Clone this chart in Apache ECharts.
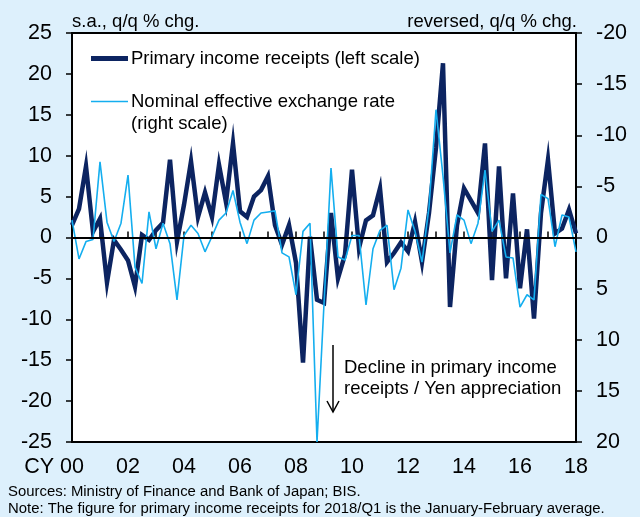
<!DOCTYPE html>
<html>
<head>
<meta charset="utf-8">
<script src="https://cdn.jsdelivr.net/npm/echarts@6/dist/echarts.min.js"></script>
<style>
html,body{margin:0;padding:0;background:#ddf0fc;}
#chart{width:640px;height:517px;}
</style>
</head>
<body>
<div id="chart"></div>
<script>
// Quarterly categories 2000Q1 .. 2018Q1
const years = [2000,2001,2002,2003,2004,2005,2006,2007,2008,2009,2010,2011,2012,2013,2014,2015,2016,2017,2018];
const categories = [];
years.forEach(y => { for (let q = 1; q <= 4; q++) { if (y === 2018 && q > 1) break; categories.push(y + 'Q' + q); } });

const tickLabels = ['00','02','04','06','08','10','12','14','16','18'];

// Primary income receipts, s.a., q/q % chg. (left scale)
const primaryIncome = [
  1.5, 3.5, 8.7, 0.7,
  2.3, -5.5, -0.3, -1.5,
  -2.8, -6.0, 0.3, -0.3,
  0.9, 1.8, 9.5, -0.5,
  4.0, 9.3, 2.5, 5.5,
  2.5, 8.9, 4.3, 11.5,
  3.2, 2.5, 5.0, 5.8,
  7.5, 1.5, -0.9, 1.5,
  -3.1, -15.3, 0.1, -7.6,
  -8.0, 3.0, -5.0, -2.1,
  8.3, -1.3, 2.1, 2.7,
  6.0, -3.0, -1.9, -0.6,
  -1.7, 1.9, -3.0, 3.0,
  11.0, 21.3, -8.5, 1.5,
  6.0, 4.5, 3.0, 11.5,
  -5.2, 8.7, -5.0, 5.4,
  -6.2, 1.0, -9.9, 3.0,
  9.5, 0.5, 1.1, 3.4,
  0.5
];

// Nominal effective exchange rate, q/q % chg. (right scale, reversed)
const neer = [
  -1.7, 2.1, 0.4, 0.2,
  -7.4, -1.5, 0.4, -1.4,
  -6.1, 2.9, 4.5, -2.5,
  1.1, -1.4, 0.6, 6.1,
  -0.2, -1.2, -0.4, 1.4,
  -0.1, -1.7, -2.4, -4.6,
  -1.5, 0.6, -1.7, -2.4,
  -2.5, -2.6, 1.5, 1.9,
  5.6, -0.6, -1.4, 20.0,
  6.5, -6.8, 1.9, 2.2,
  -0.2, -0.2, 6.6, 1.1,
  -0.7, -1.2, 5.1, 3.0,
  -2.7, -0.6, 2.4, -3.0,
  -12.5, -6.0, 1.5, -2.2,
  -1.7, 0.6, -1.4, -6.6,
  -0.6, -1.7, 1.9, 2.0,
  6.8, 5.6, 6.1, -4.2,
  -3.8, 0.9, -2.2, -2.0,
  1.4
];

const DARK = '#0c2461';
const LIGHT = '#14aeef';
const FONT = 'Liberation Sans, Arial, sans-serif';

const chart = echarts.init(document.getElementById('chart'), null, {renderer: 'canvas'});

const option = {
  backgroundColor: '#ddf0fc',
  animation: false,
  grid: {
    left: 72, top: 33, width: 504, height: 409,
    show: true, backgroundColor: '#ffffff', borderColor: '#000', borderWidth: 2
  },
  xAxis: {
    type: 'category',
    data: categories,
    boundaryGap: false,
    axisLine: {show: true, lineStyle: {color: '#000', width: 2}},
    axisTick: {show: true, inside: true, length: 6, interval: (i) => i % 4 === 0, lineStyle: {color: '#000', width: 1.5}},
    axisLabel: {
      interval: (i) => i % 8 === 0,
      formatter: (v, i) => tickLabels[Math.round(i / 8)],
      color: '#000', fontSize: 21.5, fontFamily: FONT, margin: 14
    },
    splitLine: {show: false}
  },
  yAxis: [
    {
      type: 'value', min: -25, max: 25, interval: 5, position: 'left',
      axisLine: {show: true, lineStyle: {color: '#000', width: 2}},
      axisTick: {show: true, inside: false, length: 6, lineStyle: {color: '#000', width: 1.5}},
      axisLabel: {color: '#000', fontSize: 21.5, fontFamily: FONT, margin: 20},
      splitLine: {show: false}
    },
    {
      type: 'value', min: -20, max: 20, interval: 5, position: 'right', inverse: true,
      axisLine: {show: true, lineStyle: {color: '#000', width: 2}},
      axisTick: {show: true, inside: false, length: 6, lineStyle: {color: '#000', width: 1.5}},
      axisLabel: {color: '#000', fontSize: 21.5, fontFamily: FONT, margin: 20},
      splitLine: {show: false}
    }
  ],
  series: [
    {
      name: 'Primary income receipts (left scale)',
      type: 'line', yAxisIndex: 0, data: primaryIncome,
      symbol: 'none', lineStyle: {color: DARK, width: 4.5, join: 'miter'},
      markLine: {
        silent: true, symbol: 'none', label: {show: false},
        lineStyle: {color: '#000', width: 2, type: 'solid'},
        data: [{yAxis: 0}]
      },
      z: 2
    },
    {
      name: 'Nominal effective exchange rate (right scale)',
      type: 'line', yAxisIndex: 1, data: neer,
      symbol: 'none', lineStyle: {color: LIGHT, width: 1.6},
      z: 3
    }
  ],
  graphic: [
    {type: 'text', left: 72, top: 12, style: {text: 's.a., q/q % chg.', font: '18.5px ' + FONT, fill: '#000'}},
    {type: 'text', right: 63, top: 12, style: {text: 'reversed, q/q % chg.', font: '18.5px ' + FONT, fill: '#000', textAlign: 'right'}},
    {type: 'text', x: 54, y: 467, style: {text: 'CY', font: '21.5px ' + FONT, fill: '#000', textAlign: 'right', textVerticalAlign: 'middle'}},
    // legend
    {type: 'line', shape: {x1: 91, y1: 58.5, x2: 128, y2: 58.5}, style: {stroke: DARK, lineWidth: 5}},
    {type: 'text', x: 131, y: 59, style: {text: 'Primary income receipts (left scale)', font: '18.5px ' + FONT, fill: '#000', textVerticalAlign: 'middle'}},
    {type: 'line', shape: {x1: 91, y1: 101.5, x2: 128, y2: 101.5}, style: {stroke: LIGHT, lineWidth: 1.6}},
    {type: 'text', x: 131, y: 102, style: {text: 'Nominal effective exchange rate', font: '18.5px ' + FONT, fill: '#000', textVerticalAlign: 'middle'}},
    {type: 'text', x: 131, y: 124, style: {text: '(right scale)', font: '18.5px ' + FONT, fill: '#000', textVerticalAlign: 'middle'}},
    // annotation
    {type: 'line', shape: {x1: 333, y1: 345, x2: 333, y2: 412}, style: {stroke: '#000', lineWidth: 1.5}},
    {type: 'polyline', shape: {points: [[327, 401], [333, 412], [339, 401]]}, style: {stroke: '#000', lineWidth: 1.5, fill: null}},
    {type: 'text', x: 344, y: 368, style: {text: 'Decline in primary income', font: '18.5px ' + FONT, fill: '#000', textVerticalAlign: 'middle'}},
    {type: 'text', x: 344, y: 389, style: {text: 'receipts / Yen appreciation', font: '18.5px ' + FONT, fill: '#000', textVerticalAlign: 'middle'}},
    // footer
    {type: 'text', x: 8, y: 492, style: {text: 'Sources: Ministry of Finance and Bank of Japan; BIS.', font: '14.9px ' + FONT, fill: '#000', textVerticalAlign: 'middle'}},
    {type: 'text', x: 8, y: 509, style: {text: 'Note: The figure for primary income receipts for 2018/Q1 is the January-February average.', font: '14.9px ' + FONT, fill: '#000', textVerticalAlign: 'middle'}}
  ]
};
chart.setOption(option);
</script>
</body>
</html>
